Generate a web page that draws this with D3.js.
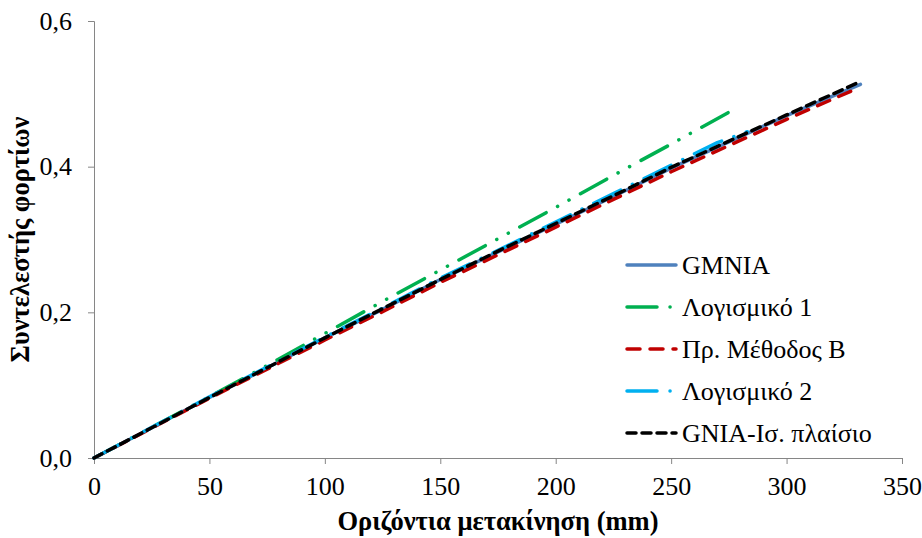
<!DOCTYPE html>
<html><head><meta charset="utf-8">
<script src="https://cdn.jsdelivr.net/npm/d3@7"></script>
<style>body{margin:0;background:#fff}svg{display:block}</style>
</head><body><svg id="c" width="922" height="538"></svg>
<script>
// ---- data ----
const xTicks = [0,50,100,150,200,250,300,350];
const yTicks = [0,0.2,0.4,0.6];
const seriesNames = ["GMNIA","Λογισμικό 1","Πρ. Μέθοδος Β","Λογισμικό 2","GNIA-Ισ. πλαίσιο"];

const xGMNIA = [0,25,50,75,100,125,150,175,200,225,250,275,300,332];
const yGMNIA = [0,0.0415,0.083,0.124,0.165,0.204,0.245,0.283,0.321,0.359,0.398,0.434,0.470,0.513];

const xL1 = [0,25,50,75,100,125,150,175,200,225,250,278];
const yL1 = [0,0.042,0.084,0.127,0.171,0.215,0.258,0.301,0.344,0.388,0.431,0.480];

const xPM = [0,25,50,75,100,125,150,175,200,225,250,275,300,331];
const yPM = [0,0.041,0.082,0.122,0.162,0.201,0.241,0.279,0.317,0.355,0.393,0.429,0.465,0.508];

const xL2 = [0,25,50,75,100,125,150,175,200,225,250,270,283];
const yL2 = [0,0.042,0.084,0.125,0.166,0.206,0.247,0.285,0.324,0.363,0.402,0.433,0.448];

const xGN = [0,25,50,75,100,125,150,175,200,225,250,275,300,330];
const yGN = [0,0.0415,0.083,0.124,0.165,0.205,0.245,0.284,0.322,0.360,0.399,0.435,0.471,0.514];

// ---- layout ----
const svg = d3.select("#c");
const L = 94, R = 902, T = 21, B = 458;
const x = d3.scaleLinear().domain([0,350]).range([L,R]);
const y = d3.scaleLinear().domain([0,0.6]).range([B,T]);
const axisCol = "#868686";
const FONT = '"Liberation Serif","Times New Roman",serif';

const fmt = d3.format(".1f");
const yAxis = svg.append("g").attr("transform",`translate(${L},0)`)
  .call(d3.axisLeft(y).tickValues(yTicks).tickSize(6).tickPadding(16).tickFormat(d=>fmt(d).replace(".",",")));
const xAxis = svg.append("g").attr("transform",`translate(0,${B})`)
  .call(d3.axisBottom(x).tickValues(xTicks).tickSize(6).tickPadding(13).tickFormat(d3.format("d")));
[xAxis,yAxis].forEach(g=>{
  g.select(".domain").attr("stroke",axisCol).attr("stroke-width",1);
  g.selectAll(".tick line").attr("stroke",axisCol);
  g.selectAll("text").style("font-family",FONT).attr("font-size",26).attr("fill","#000");
});

// axis titles
svg.append("text").attr("x",(L+R)/2).attr("y",530).attr("text-anchor","middle")
  .style("font-family",FONT).attr("font-weight","bold").attr("font-size",26.5)
  .text("Οριζόντια μετακίνηση (mm)");
svg.append("text").attr("transform",`translate(29,${(T+B)/2}) rotate(-90)`).attr("text-anchor","middle")
  .style("font-family",FONT).attr("font-weight","bold").attr("font-size",26.5)
  .text("Συντελεστής φορτίων");

// series
const styles = [
  {xs:xGMNIA, ys:yGMNIA, color:"#4F81BD", dash:null},
  {xs:xL1, ys:yL1, color:"#00B050", dash:"30,13,0.1,13,0.1,13"},
  {xs:xPM, ys:yPM, color:"#C00000", dash:"13,10"},
  {xs:xL2, ys:yL2, color:"#00B0F0", dash:"30,13,0.1,13"},
  {xs:xGN, ys:yGN, color:"#000000", dash:"9,6"}
];
const line = d3.line().x(d=>x(d[0])).y(d=>y(d[1]));
styles.forEach(s=>{
  const pts = s.xs.map((v,i)=>[v,s.ys[i]]);
  svg.append("path").attr("d",line(pts)).attr("fill","none")
    .attr("stroke",s.color).attr("stroke-width",3.5)
    .attr("stroke-linecap","round").attr("stroke-linejoin","round")
    .attr("stroke-dasharray",s.dash);
});

// legend
const lgX1 = 627, lgX2 = 676, lgY0 = 265, lgDy = 42;
styles.forEach((s,i)=>{
  const yy = lgY0 + i*lgDy;
  svg.append("line").attr("x1",lgX1).attr("x2",lgX2).attr("y1",yy).attr("y2",yy)
    .attr("stroke",s.color).attr("stroke-width",3.5).attr("stroke-linecap","round")
    .attr("stroke-dasharray",s.dash);
  svg.append("text").attr("x",682).attr("y",yy).attr("dy","0.35em")
    .style("font-family",FONT).attr("font-size",26).text(seriesNames[i]);
});
</script></body></html>
